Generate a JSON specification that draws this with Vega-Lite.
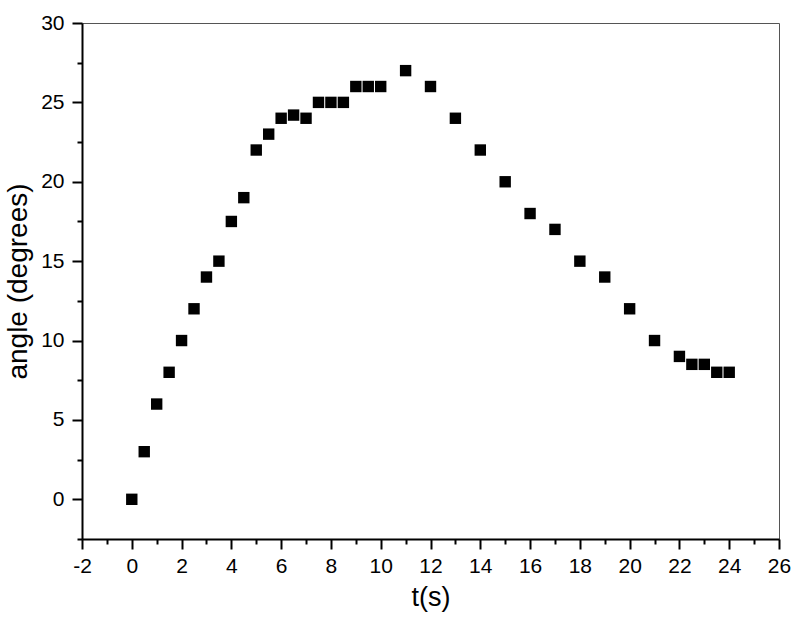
{
  "$schema": "https://vega.github.io/schema/vega-lite/v6.json",
  "width": 697,
  "height": 516,
  "autosize": "none",
  "padding": {"left": 82, "top": 23, "right": 20, "bottom": 95},
  "background": "white",
  "config": {
    "view": {"stroke": "#555555", "strokeWidth": 1}
  },
  "data": {
    "values": [
      {"t": 0, "angle": 0},
      {"t": 0.5, "angle": 3},
      {"t": 1, "angle": 6},
      {"t": 1.5, "angle": 8},
      {"t": 2, "angle": 10},
      {"t": 2.5, "angle": 12},
      {"t": 3, "angle": 14},
      {"t": 3.5, "angle": 15},
      {"t": 4, "angle": 17.5},
      {"t": 4.5, "angle": 19},
      {"t": 5, "angle": 22},
      {"t": 5.5, "angle": 23},
      {"t": 6, "angle": 24},
      {"t": 6.5, "angle": 24.2},
      {"t": 7, "angle": 24},
      {"t": 7.5, "angle": 25},
      {"t": 8, "angle": 25},
      {"t": 8.5, "angle": 25},
      {"t": 9, "angle": 26},
      {"t": 9.5, "angle": 26},
      {"t": 10, "angle": 26},
      {"t": 11, "angle": 27},
      {"t": 12, "angle": 26},
      {"t": 13, "angle": 24},
      {"t": 14, "angle": 22},
      {"t": 15, "angle": 20},
      {"t": 16, "angle": 18},
      {"t": 17, "angle": 17},
      {"t": 18, "angle": 15},
      {"t": 19, "angle": 14},
      {"t": 20, "angle": 12},
      {"t": 21, "angle": 10},
      {"t": 22, "angle": 9},
      {"t": 22.5, "angle": 8.5},
      {"t": 23, "angle": 8.5},
      {"t": 23.5, "angle": 8},
      {"t": 24, "angle": 8}
    ]
  },
  "mark": {"type": "point", "shape": "square", "filled": true, "color": "black", "size": 130, "opacity": 1},
  "encoding": {
    "x": {
      "field": "t", "type": "quantitative",
      "scale": {"domain": [-2, 26], "nice": false, "zero": false},
      "axis": {
        "orient": "bottom",
        "title": "t(s)",
        "values": [-2, -1, 0, 1, 2, 3, 4, 5, 6, 7, 8, 9, 10, 11, 12, 13, 14, 15, 16, 17, 18, 19, 20, 21, 22, 23, 24, 25, 26],
        "labelExpr": "datum.value % 2 === 0 ? '' + datum.value : ''",
        "labelOverlap": false,
        "labelBound": false,
        "labelFlush": false,
        "grid": false,
        "domainColor": "black", "domainWidth": 2,
        "tickColor": "black", "tickWidth": 2,
        "tickSize": {"condition": {"test": "datum.value % 2 !== 0", "value": 5}, "value": 10},
        "labelFont": "Liberation Sans", "labelFontSize": 21, "labelColor": "black",
        "labelPadding": 6,
        "titleFont": "Liberation Sans", "titleFontSize": 27, "titleFontWeight": "normal", "titleColor": "black",
        "titlePadding": 8
      }
    },
    "y": {
      "field": "angle", "type": "quantitative",
      "scale": {"domain": [-2.5, 30], "nice": false, "zero": false},
      "axis": {
        "orient": "left",
        "title": "angle (degrees)",
        "values": [-2.5, 0, 2.5, 5, 7.5, 10, 12.5, 15, 17.5, 20, 22.5, 25, 27.5, 30],
        "labelExpr": "datum.value % 5 === 0 ? '' + datum.value : ''",
        "labelOverlap": false,
        "labelBound": false,
        "labelFlush": false,
        "grid": false,
        "domainColor": "black", "domainWidth": 2,
        "tickColor": "black", "tickWidth": 2,
        "tickSize": {"condition": {"test": "datum.value % 5 !== 0", "value": 5}, "value": 10},
        "labelFont": "Liberation Sans", "labelFontSize": 21, "labelColor": "black",
        "labelPadding": 8,
        "titleFont": "Liberation Sans", "titleFontSize": 28, "titleFontWeight": "normal", "titleColor": "black",
        "titlePadding": 8
      }
    }
  }
}
